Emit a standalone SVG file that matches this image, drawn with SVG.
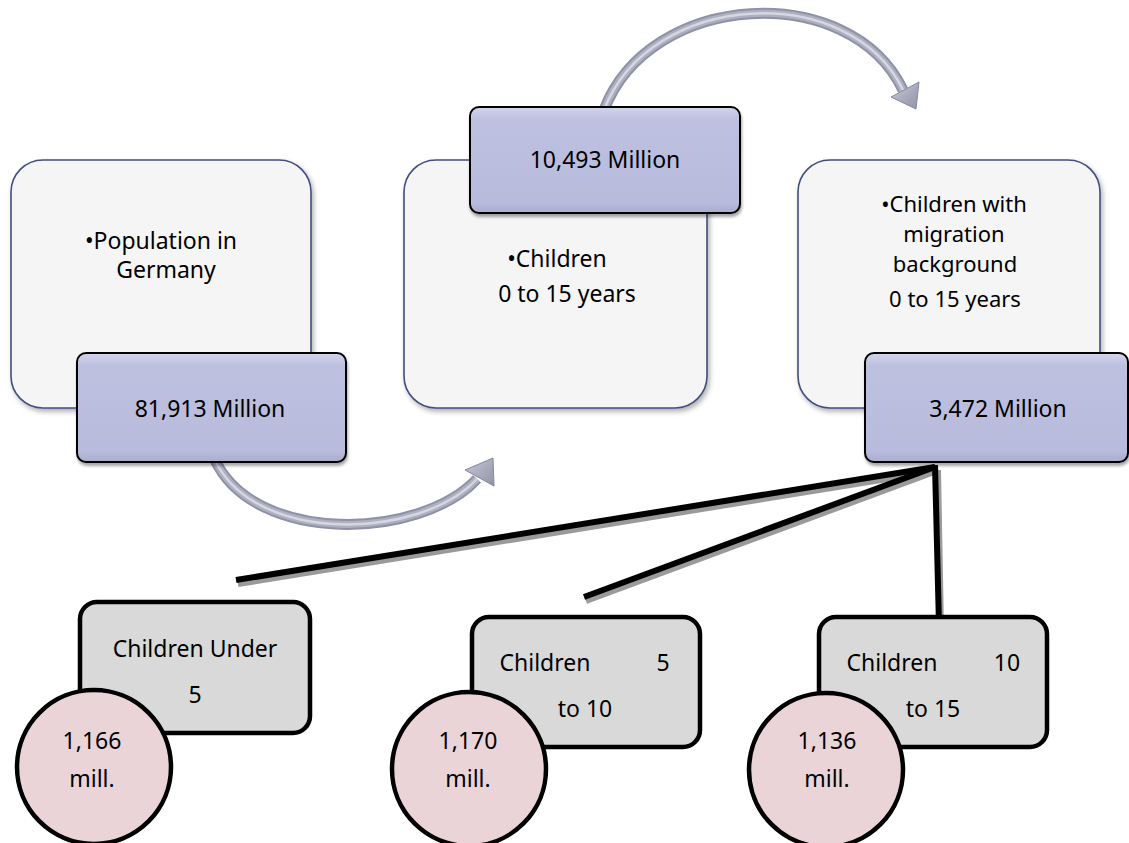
<svg xmlns="http://www.w3.org/2000/svg" width="1129" height="843" viewBox="0 0 1129 843">
<defs>
<linearGradient id="blueG" x1="0" y1="0" x2="0" y2="1">
<stop offset="0" stop-color="#d3d5ec"/>
<stop offset="0.12" stop-color="#bdc0df"/>
<stop offset="0.9" stop-color="#b8bbdb"/>
<stop offset="1" stop-color="#a9acce"/>
</linearGradient>
<linearGradient id="headG" x1="0" y1="0" x2="1" y2="1">
<stop offset="0" stop-color="#c8c9d6"/>
<stop offset="1" stop-color="#9092a7"/>
</linearGradient>
<filter id="shadow" x="-10%" y="-10%" width="125%" height="125%">
<feDropShadow dx="2" dy="3" stdDeviation="2.5" flood-color="#000" flood-opacity="0.3"/>
</filter>
<filter id="lshadow" x="-10%" y="-10%" width="125%" height="125%">
<feDropShadow dx="1" dy="3" stdDeviation="1.5" flood-color="#000" flood-opacity="0.35"/>
</filter>
<style>
.light{fill:#f5f5f5;stroke:#434e80;stroke-width:1.6;}
.blue{fill:url(#blueG);stroke:#000;stroke-width:2;}
.grey{fill:#d9d9d9;stroke:#000;stroke-width:4.5;}
.pink{fill:#ead4d8;stroke:#000;stroke-width:4.5;}
text{font-family:"Noto Sans","Open Sans","Liberation Sans",sans-serif;font-size:23px;fill:#000;}
.m{text-anchor:middle;}
.s{font-size:22px;}
.arrowOut{fill:none;stroke:#8f91a6;stroke-width:11;}
.arrowMid{fill:none;stroke:#aeb0c1;stroke-width:7;}
.arrowIn{fill:none;stroke:#d6d7e1;stroke-width:2.5;}
.head{fill:url(#headG);stroke:#85879c;stroke-width:1;}
.line{stroke:#000;stroke-width:6;stroke-linecap:butt;}
.lsh{stroke:#9a9a9a;stroke-width:6;}
</style>
</defs>

<g id="box-population">
<rect class="light" x="11" y="160" width="300" height="248" rx="32" filter="url(#shadow)"/>
<text class="m"><tspan x="161" y="249">•Population in</tspan><tspan x="166" y="278">Germany</tspan></text>
</g>
<g id="box-children">
<rect class="light" x="404" y="160" width="303" height="248" rx="32" filter="url(#shadow)"/>
<text class="m"><tspan x="557" y="267">•Children</tspan><tspan x="567" y="302">0 to 15 years</tspan></text>
</g>
<g id="box-migration">
<rect class="light" x="798" y="160" width="302" height="248" rx="32" filter="url(#shadow)"/>
<text class="m s"><tspan x="954" y="212">•Children with</tspan><tspan x="954" y="242">migration</tspan><tspan x="955" y="272">background</tspan><tspan x="955" y="307">0 to 15 years</tspan></text>
</g>

<g id="connectors">
<path class="arrowOut" d="M 604 110 C 650 -10, 850 -20, 903 90"/>
<path class="arrowMid" d="M 604 110 C 650 -10, 850 -20, 903 90"/>
<path class="arrowIn" d="M 604 110 C 650 -10, 850 -20, 903 90"/>
<polygon class="head" points="916,109 891,97 919,82"/>
<path class="arrowOut" d="M 215 460 C 255 545, 420 540, 477 479"/>
<path class="arrowMid" d="M 215 460 C 255 545, 420 540, 477 479"/>
<path class="arrowIn" d="M 215 460 C 255 545, 420 540, 477 479"/>
<polygon class="head" points="493,458 465,470 494,486"/>
<line class="lsh" x1="937" y1="471" x2="238" y2="584"/>
<line class="lsh" x1="937" y1="471" x2="586" y2="601"/>
<line class="lsh" x1="938" y1="470" x2="941" y2="630"/>
<line class="line" x1="935" y1="467" x2="236" y2="580"/>
<line class="line" x1="935" y1="467" x2="584" y2="597"/>
<line class="line" x1="935" y1="465" x2="939" y2="625"/>
</g>

<g id="val-population">
<rect class="blue" x="77" y="353" width="269" height="109" rx="9" filter="url(#lshadow)"/>
<text class="m" x="210" y="417">81,913 Million</text>
</g>
<g id="val-children">
<rect class="blue" x="470" y="107" width="270" height="106" rx="9" filter="url(#lshadow)"/>
<text class="m" x="605" y="168">10,493 Million</text>
</g>
<g id="val-migration">
<rect class="blue" x="865" y="353" width="263" height="109" rx="9" filter="url(#lshadow)"/>
<text class="m" x="998" y="417">3,472 Million</text>
</g>

<g id="group-under5">
<rect class="grey" x="80" y="602" width="230" height="131" rx="17"/>
<text class="m"><tspan x="195" y="657">Children Under</tspan><tspan x="195" y="703">5</tspan></text>
<circle class="pink" cx="94" cy="767" r="77"/>
<text class="m"><tspan x="92" y="749">1,166</tspan><tspan x="92" y="787">mill.</tspan></text>
</g>
<g id="group-5to10">
<rect class="grey" x="472" y="617" width="228" height="130" rx="17"/>
<text class="m"><tspan x="545" y="671">Children</tspan><tspan x="663" y="671">5</tspan><tspan x="585" y="717">to 10</tspan></text>
<circle class="pink" cx="469" cy="769" r="77"/>
<text class="m"><tspan x="468" y="749">1,170</tspan><tspan x="468" y="787">mill.</tspan></text>
</g>
<g id="group-10to15">
<rect class="grey" x="819" y="617" width="228" height="130" rx="17"/>
<text class="m"><tspan x="892" y="671">Children</tspan><tspan x="1007" y="671">10</tspan><tspan x="933" y="717">to 15</tspan></text>
<circle class="pink" cx="826" cy="770" r="77"/>
<text class="m"><tspan x="827" y="749">1,136</tspan><tspan x="827" y="787">mill.</tspan></text>
</g>
</svg>
